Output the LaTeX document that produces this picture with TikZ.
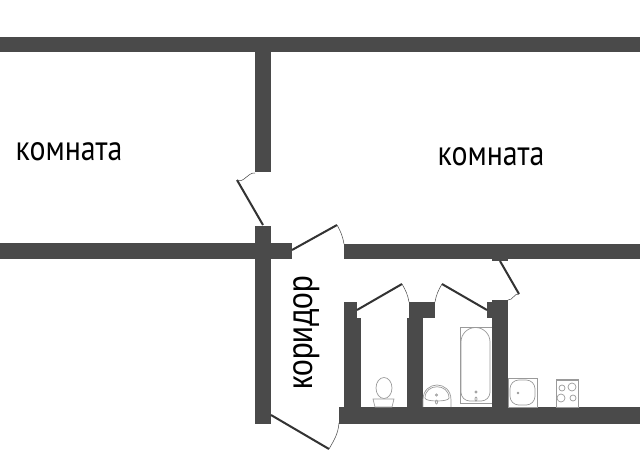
\documentclass[tikz,border=0pt]{standalone}
\usepackage{fontspec}
\setmainfont{PT Sans}
\newfontfamily\corridorfont{Liberation Sans}

\definecolor{wallgray}{HTML}{4A4A4A}
\definecolor{linegray}{HTML}{9A9A9A}
\tikzset{
    wall/.style={fill=wallgray, draw=none},
    leaf/.style={draw=black!80, line width=1.15pt},
    swing/.style={draw=black!70, line width=0.3pt},
    fixture/.style={draw=linegray, line width=0.4pt, fill=none},
    room/.style={font=\fontsize{20}{24}\selectfont, inner sep=0pt}
}

\begin{document}
\begin{tikzpicture}[x=0.02cm, y=-0.02cm]

    \useasboundingbox (0,0) rectangle (640,460);

    % Walls
    \foreach \xa/\ya/\xb/\yb in {0/37/640/52, 255/52/271/172, 0/243/292/259, 255/226/271/424,
        344/244/640/259, 492/259/508/261, 339/407/640/424, 344/302/357/318, 344/318/361/407,
        409/302/435/318, 407/318/423/407, 487/302/492/318, 492/300/508/407} {
        \fill[wall] (\xa,\ya) rectangle (\xb,\yb);
    }

    % Door leaves
    \foreach \xa/\ya/\xb/\yb in {263/225/237/180, 292/250/337/225, 357/310/402/284,
        487/310/442/284, 500/261/519/294, 271/415/329/449} {
        \draw[leaf] (\xa,\ya) -- (\xb,\yb);
    }

    % Door swings
    \draw[swing] (237,180) to[out=-30, in=175] (255,173);
    \draw[swing] (337,225) to[out=-60, in=100] (344,244);
    \draw[swing] (402,284) to[out=-60, in=100] (409,302);
    \draw[swing] (442,284) to[out=-120, in=80] (435,302);
    \draw[swing] (519,294) to[out=170, in=-5] (508,300);
    \draw[swing] (329,449) to[out=60, in=-95] (339,423);

    % Toilet
    \draw[fixture] (384,388) ellipse (8 and 10.5);
    \draw[fixture, fill=white] (373,399) -- (394,399) -- (392,407) -- (375,407) -- cycle;

    % Sink
    \draw[fixture] (423,407) -- (423,400) .. controls (423,380) and (451,380) .. (451,400) -- (451,407);
    \draw[fixture] (425,398) .. controls (425,383) and (449,383) .. (449,398)
        .. controls (449,402) and (425,402) .. (425,398);
    \draw[fixture] (436.5,395) circle (1.2);
    \draw[fixture] (436.5,402) ellipse (1 and 2);

    % Bath
    \draw[fixture] (492,327) -- (460,327) -- (460,403) -- (492,403);
    \draw[fixture, rounded corners=5] (475,401) -- (490,401) -- (490,342);
    \draw[fixture] (490,342) arc (0:-180:14.5);
    \draw[fixture, rounded corners=5] (461,342) -- (461,401) -- (475,401);
    \draw[fixture] (476,392) circle (1.2);
    \draw[fixture] (476,399) ellipse (1 and 2);

    % Square sink
    \draw[fixture] (508,378) rectangle (537,407);
    \draw[fixture, rounded corners=5] (510,380) rectangle (535,405);
    \fill[linegray] (518,393) circle (1.3);

    % Cooker
    \draw[fixture] (556,379) rectangle (578,407);
    \draw[fixture] (556,380.5) -- (578,380.5);
    \foreach \x/\y/\r in {562/388/3, 572/387/4, 561/398/4, 573/398/3} {
        \draw[fixture] (\x,\y) circle (\r);
    }

    % Labels
    \node[room] (roomleft) at (69,152) {\scalebox{0.85}[1]{комната}};
    \node[room] (roomright) at (491,157) {\scalebox{0.85}[1]{комната}};
    \node[room, rotate=90] (corridor) at (307,333) {\corridorfont\scalebox{0.85}[1]{коридор}};

\end{tikzpicture}
\end{document}
